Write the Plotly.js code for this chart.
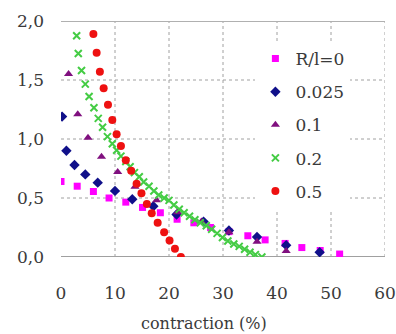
<!DOCTYPE html>
<html>
<head>
<meta charset="utf-8">
<script src="https://cdn.plot.ly/plotly-3.0.1.min.js"></script>
<style>html,body{margin:0;padding:0;background:#fff;}#chart{width:396px;height:334px;}</style>
</head>
<body>
<div id="chart"></div>
<script>
// Series names
const seriesNames = ["R/l=0", "0.025", "0.1", "0.2", "0.5"];

// R/l = 0 (magenta squares)
const rl0_x = [0.0, 3.0, 6.0, 8.9, 12.0, 15.1, 18.4, 21.5, 24.6, 27.7, 31.1, 34.6, 37.8, 41.5, 44.6, 48.0, 51.6];
const rl0_y = [0.64, 0.60, 0.555, 0.50, 0.465, 0.42, 0.375, 0.32, 0.29, 0.25, 0.215, 0.18, 0.145, 0.115, 0.08, 0.055, 0.025];

// R/l = 0.025 (navy diamonds)
const rl025_x = [0.2, 1.0, 2.5, 4.5, 6.8, 10.0, 13.2, 17.1, 21.4, 26.4, 31.1, 36.3, 41.7, 47.9];
const rl025_y = [1.19, 0.90, 0.78, 0.70, 0.63, 0.56, 0.49, 0.43, 0.36, 0.30, 0.225, 0.17, 0.10, 0.04];

// R/l = 0.1 (purple triangles)
const rl01_x = [1.4, 3.1, 5.0, 7.5, 10.5, 13.7, 17.7, 21.6, 26.0, 31.1, 36.3, 41.7];
const rl01_y = [1.55, 1.21, 1.01, 0.85, 0.72, 0.595, 0.48, 0.38, 0.30, 0.21, 0.13, 0.05];

// R/l = 0.2 (green crosses)
const rl02_x = [2.9, 3.2, 3.8, 4.5, 5.2, 6.1, 6.9, 7.7, 8.6, 9.5, 10.3, 11.1, 12.0, 12.8, 13.6, 14.5, 15.3, 16.3, 17.2, 18.1, 19.1, 20.0, 20.9, 21.9, 22.8, 23.8, 24.8, 25.8, 26.9, 27.9, 28.9, 29.9, 30.9, 32.0, 33.0, 34.0, 35.0, 36.0, 37.2];
const rl02_y = [1.875, 1.725, 1.58, 1.465, 1.36, 1.265, 1.175, 1.10, 1.02, 0.96, 0.905, 0.855, 0.81, 0.765, 0.715, 0.68, 0.635, 0.60, 0.56, 0.525, 0.50, 0.48, 0.44, 0.405, 0.375, 0.345, 0.315, 0.29, 0.265, 0.235, 0.20, 0.165, 0.135, 0.11, 0.09, 0.065, 0.04, 0.02, 0.0];

// R/l = 0.5 (red circles)
const rl05_x = [6.0, 6.6, 7.2, 7.9, 8.7, 9.5, 10.3, 11.1, 12.0, 13.0, 14.0, 14.9, 15.9, 16.8, 17.9, 19.1, 20.1, 21.1, 22.2];
const rl05_y = [1.89, 1.73, 1.57, 1.43, 1.29, 1.16, 1.04, 0.94, 0.82, 0.73, 0.62, 0.54, 0.45, 0.37, 0.29, 0.21, 0.14, 0.07, 0.0];

// Axis ticks
const xTickVals = [0, 10, 20, 30, 40, 50, 60];
const xTickText = ["0", "10", "20", "30", "40", "50", "60"];
const yTickVals = [0, 0.5, 1.0, 1.5, 2.0];
const yTickText = ["0,0", "0,5", "1,0", "1,5", "2,0"];
const xGridVals = [10, 20, 30, 40, 50, 60];
const yGridVals = [0.5, 1.0, 1.5];
const xTitle = "contraction (%)";

const serif = "DejaVu Serif";
const txtColor = "#3a3a3a";

const traces = [
  {x: rl0_x, y: rl0_y, name: seriesNames[0], legendgroup: "a", mode: "markers", type: "scatter",
   marker: {symbol: "square", size: 7, color: "#ff00ff"}},
  {x: rl025_x, y: rl025_y, name: seriesNames[1], legendgroup: "b", mode: "markers", type: "scatter",
   marker: {symbol: "diamond", size: 8, color: "#10108a"}},
  {x: rl01_x, y: rl01_y, name: seriesNames[2], legendgroup: "c", mode: "markers", type: "scatter",
   marker: {symbol: "triangle-up", size: 8, color: "#80107f"}},
  {x: rl02_x, y: rl02_y, name: seriesNames[3], legendgroup: "d", mode: "markers", type: "scatter",
   marker: {symbol: "x-thin-open", size: 7, color: "#44cc44", line: {color: "#44cc44", width: 2}}},
  {x: rl05_x, y: rl05_y, name: seriesNames[4], legendgroup: "e", mode: "markers", type: "scatter",
   marker: {symbol: "circle", size: 8, color: "#ee1111"}}
];

const shapes = [];
xGridVals.forEach(v => shapes.push({type: "line", xref: "x", yref: "paper", x0: v, x1: v, y0: 0, y1: 1,
  line: {color: "#a0a0a0", width: 1, dash: "dot"}, layer: "below"}));
yGridVals.forEach(v => shapes.push({type: "line", xref: "paper", yref: "y", x0: 0, x1: 1, y0: v, y1: v,
  line: {color: "#a0a0a0", width: 1, dash: "dot"}, layer: "below"}));
shapes.push({type: "line", xref: "paper", yref: "y", x0: 0, x1: 1, y0: 2, y1: 2,
  line: {color: "#b0b0b0", width: 2}, layer: "below"});
shapes.push({type: "line", xref: "paper", yref: "y", x0: 0, x1: 1, y0: 0, y1: 0,
  line: {color: "#a0a0a0", width: 2}, layer: "below"});

const layout = {
  width: 396, height: 334,
  margin: {l: 60.5, r: 11, t: 21, b: 77},
  paper_bgcolor: "#ffffff", plot_bgcolor: "#ffffff",
  font: {family: serif, size: 17, color: txtColor},
  showlegend: true,
  legend: {x: 0.6, y: 0.915, xanchor: "left", yanchor: "top", bgcolor: "#ffffff",
           font: {family: serif, size: 17, color: txtColor}, tracegroupgap: 8, itemwidth: 30},
  xaxis: {range: [0, 60], tickvals: xTickVals, ticktext: xTickText, showgrid: false, zeroline: false,
          showline: false, ticks: "", ticklabelstandoff: 24, tickfont: {family: serif, size: 17, color: txtColor}},
  yaxis: {range: [0, 2], tickvals: yTickVals, ticktext: yTickText, showgrid: false, zeroline: false,
          showline: false, ticks: "", ticklabelstandoff: 16, tickfont: {family: serif, size: 17, color: txtColor}},
  shapes: shapes,
  annotations: [{text: xTitle, xref: "paper", yref: "paper", x: 0.44, y: -0.28, xanchor: "center", yanchor: "middle",
                 showarrow: false, font: {family: serif, size: 16, color: txtColor}}]
};

Plotly.newPlot("chart", traces, layout, {displayModeBar: false, staticPlot: true});
</script>
</body>
</html>
